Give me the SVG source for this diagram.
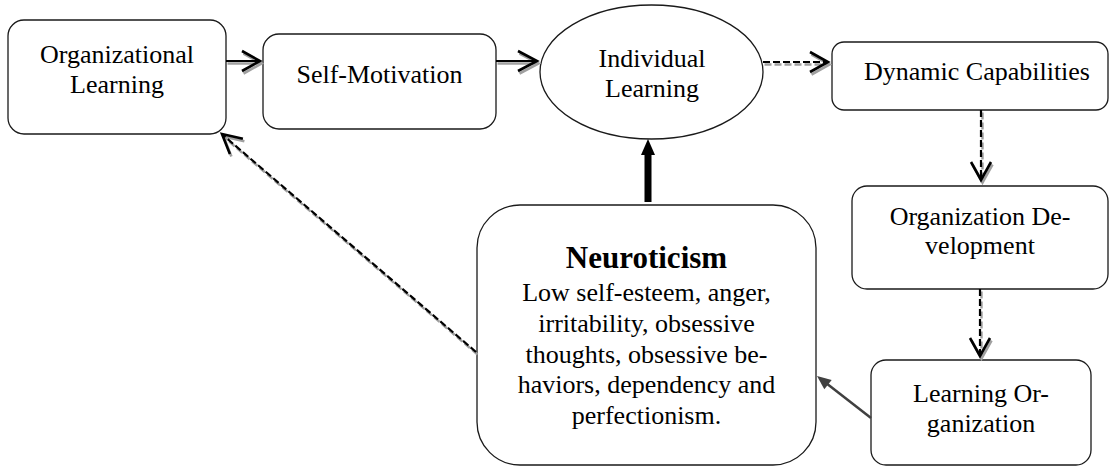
<svg xmlns="http://www.w3.org/2000/svg" width="1112" height="467" viewBox="0 0 1112 467">
<style>
.box{fill:#fff;stroke:#1a1a1a;stroke-width:1.3}
.t{font-size:26px;fill:#000;text-anchor:middle}
.tb{font-size:31px;font-weight:bold;fill:#000;text-anchor:middle}
.ink{fill:none;stroke:#000;stroke-width:2.2}
.sh{fill:none;stroke:#a0a0a0;stroke-width:2.4}
.dash{stroke-dasharray:7 3}
.head{fill:none;stroke-width:2.6;stroke-linejoin:miter}
</style>
<rect width="1112" height="467" fill="#fff"/>
<g font-family="'Liberation Serif', 'Times New Roman', serif">
<g id="organizational-learning">
<rect class="box" x="8" y="20" width="218" height="114" rx="16"/>
<text class="t" x="117" y="63">Organizational</text>
<text class="t" x="117" y="93">Learning</text>
</g>
<g id="self-motivation">
<rect class="box" x="263" y="34" width="233" height="95" rx="16"/>
<text class="t" x="379.5" y="83">Self-Motivation</text>
</g>
<g id="individual-learning">
<ellipse class="box" cx="651.5" cy="72" rx="111.5" ry="67"/>
<text class="t" x="652" y="67">Individual</text>
<text class="t" x="652" y="97">Learning</text>
</g>
<g id="dynamic-capabilities">
<rect class="box" x="832" y="42" width="276" height="68" rx="12"/>
<text class="t" x="977" y="80">Dynamic Capabilities</text>
</g>
<g id="organization-development">
<rect class="box" x="852" y="186" width="256" height="103" rx="15"/>
<text class="t" x="980" y="225">Organization De-</text>
<text class="t" x="980" y="254">velopment</text>
</g>
<g id="learning-organization">
<rect class="box" x="871" y="360" width="220" height="105" rx="15"/>
<text class="t" x="981" y="402">Learning Or-</text>
<text class="t" x="981" y="432">ganization</text>
</g>
<g id="neuroticism">
<rect class="box" x="477" y="205" width="339" height="260" rx="43"/>
<text class="tb" x="646.5" y="268">Neuroticism</text>
<text class="t" x="646.5" y="300.5">Low self-esteem, anger,</text>
<text class="t" x="646.5" y="331.5">irritability, obsessive</text>
<text class="t" x="646.5" y="362.5">thoughts, obsessive be-</text>
<text class="t" x="646.5" y="393">haviors, dependency and</text>
<text class="t" x="646.5" y="423.5">perfectionism.</text>
</g>
</g>
<g id="connectors">
<defs>
<g id="c1"><path d="M226 61H259"/><path class="head" d="M242 51L260 61L242 71"/></g>
<g id="c2"><path d="M496 61H536"/><path class="head" d="M518 51L537 61L518 71"/></g>
<g id="c3"><path class="dash" d="M763 62H827"/><path class="head" d="M810 52L828 62L810 72"/></g>
<g id="c4"><path class="dash" d="M981 110V179"/><path class="head" d="M971 162L981 180L991 162"/></g>
<g id="c5"><path class="dash" d="M980 289V355"/><path class="head" d="M970 338L980 356L990 338"/></g>
<g id="c6"><path class="dash" d="M476 352L224 136"/><path class="head" d="M229.9 154L222 134L242.9 138.8"/></g>
</defs>
<g class="sh" transform="translate(1.5,2.5)">
<use href="#c1"/><use href="#c2"/><use href="#c3"/><use href="#c4"/><use href="#c5"/><use href="#c6"/>
</g>
<g class="ink">
<use href="#c1"/><use href="#c2"/><use href="#c3"/><use href="#c4"/><use href="#c5"/><use href="#c6"/>
</g>
<path d="M644.5 202V155H641L648 139L655 155H651.5V202Z" fill="#000"/>
<path d="M871 418L826 383" stroke="#404040" stroke-width="2.5" fill="none"/>
<path d="M817 376L831.7 379.9L824.3 389.3Z" fill="#404040"/>
</g>
</svg>
